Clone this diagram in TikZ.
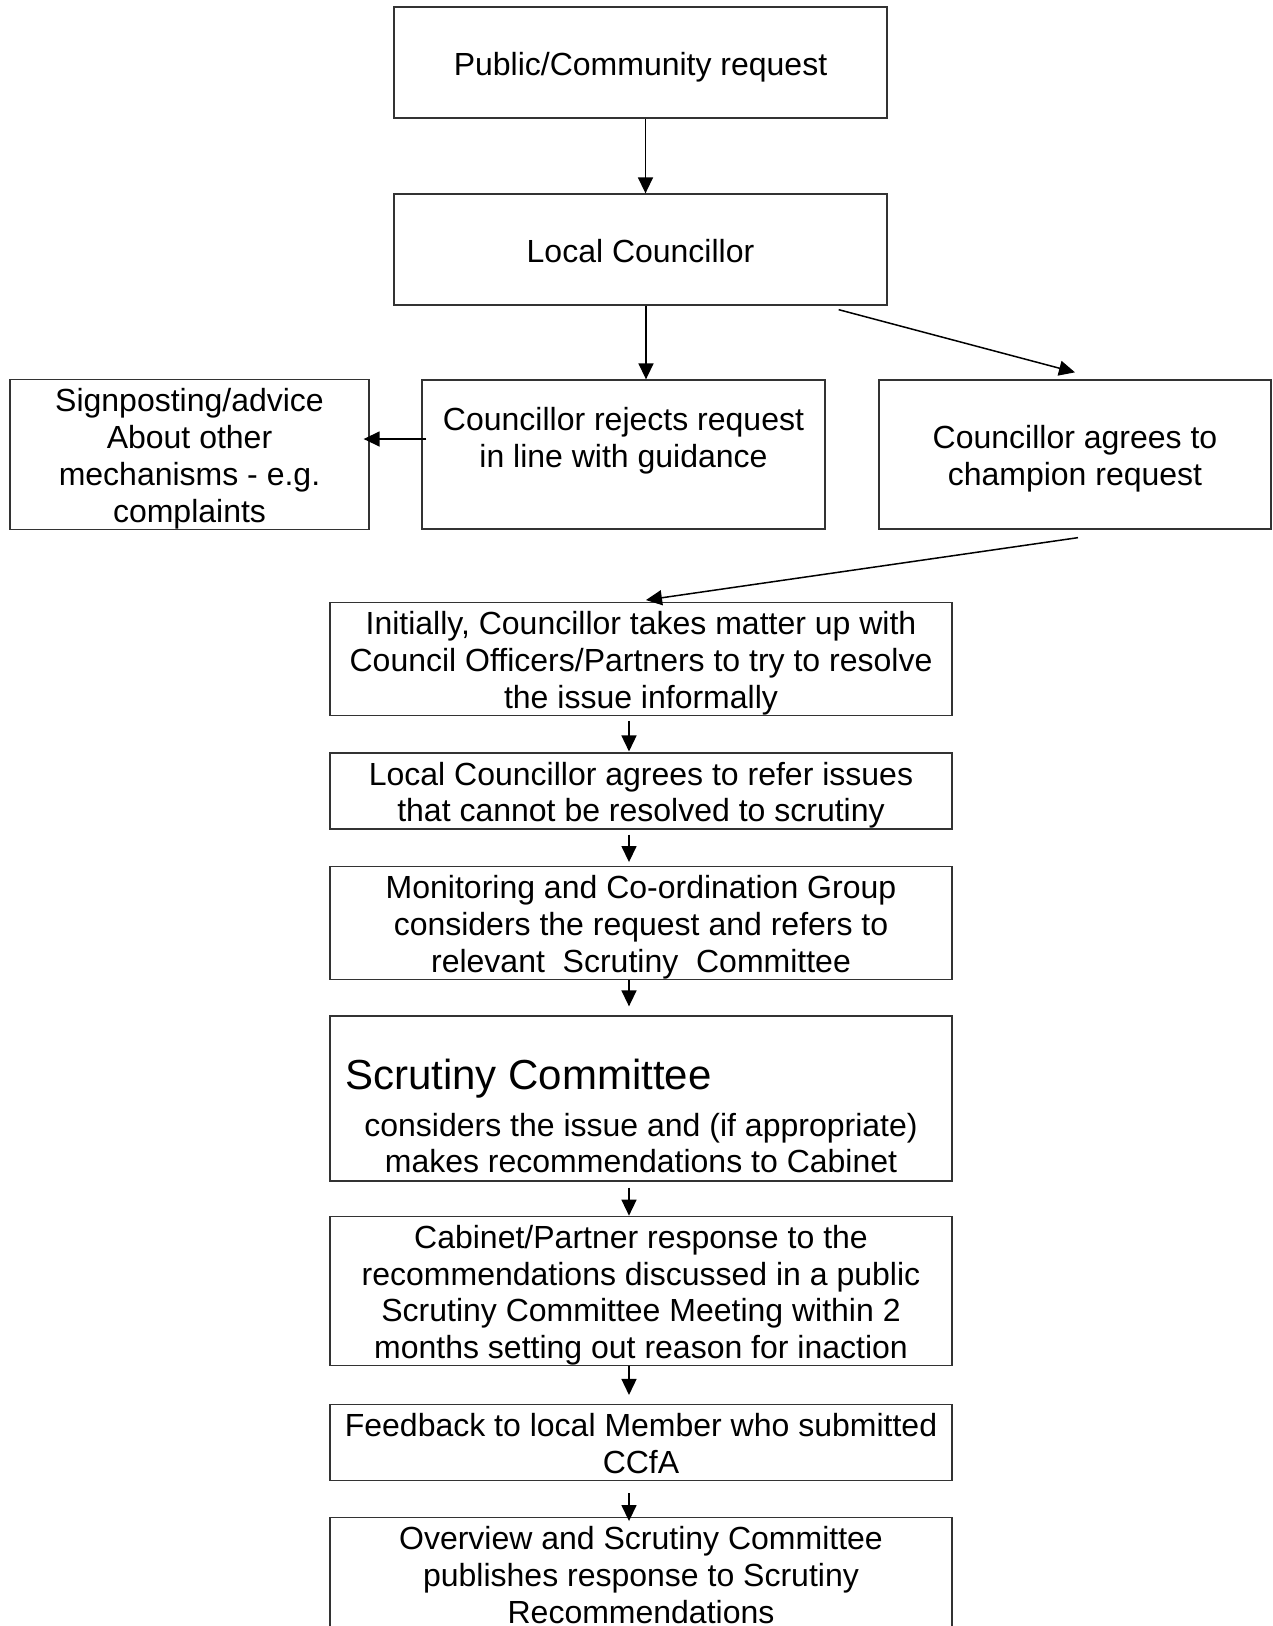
\documentclass[tikz,border=0pt]{standalone}
\usepackage{fontspec}
\setmainfont{Liberation Sans}
\usetikzlibrary{arrows.meta,calc}
% invisible rules that fix the height of a first line and the depth of a last line
\newcommand\fhs{\rule{0pt}{32pt}}
\newcommand\ldp{\rule[-7pt]{0pt}{7pt}}
\begin{document}
\begin{tikzpicture}[x=1pt,y=-1pt,
  box/.style={draw=black!80, line width=1.3pt, inner sep=0pt, align=center,
    font=\fontsize{32}{36.8}\selectfont},
  arr/.style={line width=1.5pt, -{Triangle[length=16pt,width=15pt]}},
  txt/.style={inner sep=0pt, align=center, font=\fontsize{32}{36.8}\selectfont},
]
\useasboundingbox (0,0) rectangle (1273,1626);
\clip (0,0) rectangle (1273,1626);

% top of the flow
\node[box, minimum width=493, minimum height=111] (pub) at (640.5,62.5) {\fhs Public/Community request\ldp};
\node[box, minimum width=493, minimum height=111] (lc) at (640.5,249.5) {\fhs Local Councillor\ldp};

% the three-way split
\node[box, minimum width=359, minimum height=149] (sign) at (189.5,454.5)
  {\fhs Signposting/advice\\About other\\mechanisms - e.g.\\complaints\ldp};
\node[box, minimum width=403, minimum height=149] (reject) at (623.5,454.5)
  {\fhs Councillor rejects request\\in line with guidance\\\mbox{}\ldp};
\node[box, minimum width=392, minimum height=149] (agree) at (1075,454.5)
  {\fhs Councillor agrees to\\champion request\ldp};

% the scrutiny route
\node[box, minimum width=622, minimum height=112] (init) at (641,659)
  {\fhs Initially, Councillor takes matter up with\\Council Officers/Partners to try to resolve\\the issue informally\ldp};
\node[box, minimum width=622, minimum height=74] (lcag) at (641,791)
  {\fhs Local Councillor agrees to refer issues\\that cannot be resolved to scrutiny\ldp};
\node[box, minimum width=622, minimum height=112] (mon) at (641,923)
  {\fhs Monitoring and Co-ordination Group\\considers the request and refers to\\relevant\ \ Scrutiny\ \ Committee\ldp};
\node[box, minimum width=622, minimum height=165] (scr) at (641,1098.5) {};
\node[txt, anchor=west, font=\fontsize{42}{48}\selectfont] (scrhead) at (345,1079) {Scrutiny Committee};
\node[txt] (scrbody) at (641,1143)
  {considers the issue and (if appropriate)\\makes recommendations to Cabinet};
\node[box, minimum width=622, minimum height=146] (cab) at (641,1291)
  {\fhs Cabinet/Partner response to the\\recommendations discussed in a public\\Scrutiny Committee Meeting within 2\\months setting out reason for inaction\ldp};
\node[box, minimum width=622, minimum height=74] (fb) at (641,1442.5)
  {\fhs Feedback to local Member who submitted\\CCfA\ldp};
\node[box, minimum width=622, minimum height=110] (ov) at (641,1574)
  {\fhs Overview and Scrutiny Committee\\publishes response to Scrutiny\\Recommendations\ldp};

% connectors
\draw[arr] ([shift={(5,0)}]pub.south) -- ([shift={(5,0)}]lc.north);
\draw[arr] ([shift={(5.5,0)}]lc.south) -- ([shift={(22.5,0)}]reject.north);
\draw[arr] ([shift={(-49,4)}]lc.south east) -- ([shift={(0,-7)}]agree.north);
\draw[arr] ([shift={(5,-15.5)}]reject.west) -- ([shift={(-6,-15.5)}]sign.east);
\draw[arr] ([shift={(3,8)}]agree.south) -- ([shift={(5,-2)}]init.north);
\draw[arr] ([shift={(-12,5)}]init.south) -- ([shift={(-12,-1)}]lcag.north);
\draw[arr] ([shift={(-12,5)}]lcag.south) -- ([shift={(-12,-4)}]mon.north);
\draw[arr] ([shift={(-12,0)}]mon.south) -- ([shift={(-12,-9)}]scr.north);
\draw[arr] ([shift={(-12,6)}]scr.south) -- ([shift={(-12,0)}]cab.north);
\draw[arr] ([shift={(-12,0)}]cab.south) -- ([shift={(-12,-9)}]fb.north);
\draw[arr] ([shift={(-12,12)}]fb.south) -- ([shift={(-12,4)}]ov.north);
\end{tikzpicture}
\end{document}
